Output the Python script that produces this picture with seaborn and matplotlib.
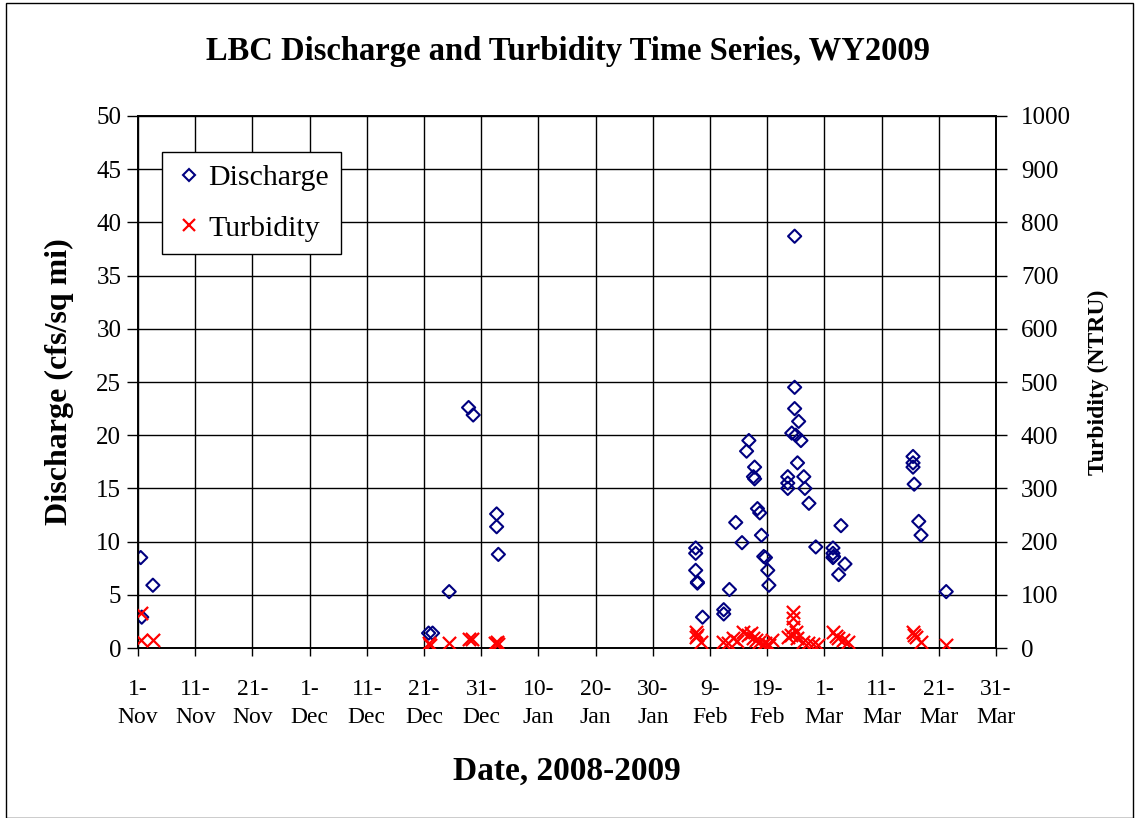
import matplotlib
matplotlib.use("Agg")
import matplotlib.pyplot as plt
from matplotlib.lines import Line2D
from matplotlib.patches import Rectangle
import seaborn as sns
import pandas as pd
import numpy as np

# ---- data (days since 2008-11-01) ----
base_date = "2008-11-01"
discharge_day = [0.47, 0.65, 2.6, 50.8, 51.5, 54.4, 57.8, 58.6, 62.7, 62.7, 63.0,
                 97.5, 97.5, 97.5, 97.8, 97.8, 98.7, 102.4, 102.4, 103.4, 104.5,
                 105.6, 106.4, 106.8, 107.6, 107.8, 107.8, 108.3, 108.7, 109.0,
                 109.4, 109.7, 110.1, 110.3, 113.6, 113.6, 113.6, 114.3, 114.8,
                 114.8, 114.8, 115.0, 115.3, 115.5, 115.9, 116.4, 116.6, 117.3,
                 118.5, 121.5, 121.5, 121.6, 121.5, 122.5, 122.9, 123.6, 135.5,
                 135.5, 135.5, 135.7, 136.5, 136.9, 141.3]
discharge_cfs = [8.5, 2.9, 5.9, 1.4, 1.4, 5.3, 22.6, 21.9, 12.6, 11.4, 8.8,
                 9.4, 8.9, 7.3, 6.2, 6.1, 2.9, 3.6, 3.2, 5.5, 11.8,
                 9.9, 18.5, 19.5, 16.1, 17.0, 15.9, 13.1, 12.7, 10.6,
                 8.6, 8.5, 7.3, 5.9, 16.1, 15.5, 15.0, 20.2, 38.7,
                 24.5, 22.5, 20.0, 17.4, 21.3, 19.5, 16.1, 15.0, 13.6,
                 9.5, 9.4, 8.9, 8.6, 8.5, 6.9, 11.5, 7.9, 18.0,
                 17.4, 17.0, 15.4, 11.9, 10.6, 5.3]
turbidity_day = [0.5, 0.5, 2.6, 50.8, 51.1, 54.4, 57.8, 58.4, 62.5, 62.7, 62.9,
                 97.5, 97.5, 97.8, 98.4, 102.2, 103.1, 104.0, 104.8, 105.7, 106.6,
                 107.1, 107.5, 108.0, 108.5, 109.2, 109.7, 110.4, 110.8, 113.6,
                 114.1, 114.6, 114.6, 114.6, 115.0, 115.3, 116.2, 117.1, 118.0,
                 118.9, 121.5, 122.0, 122.3, 123.2, 124.1, 135.5, 135.7, 136.0,
                 136.9, 141.3]
turbidity_ntru = [66, 15, 15, 9, 6, 9, 17, 17, 9, 12, 7,
                  30, 21, 25, 11, 11, 9, 19, 13, 30, 24,
                  28, 19, 15, 11, 8, 9, 6, 15, 21,
                  25, 68, 56, 40, 30, 19, 11, 9, 7,
                  6, 30, 22, 19, 15, 11, 30, 25, 21,
                  11, 6]
tick_dates = ["2008-11-01", "2008-11-11", "2008-11-21", "2008-12-01", "2008-12-11",
              "2008-12-21", "2008-12-31", "2009-01-10", "2009-01-20", "2009-01-30",
              "2009-02-09", "2009-02-19", "2009-03-01", "2009-03-11", "2009-03-21",
              "2009-03-31"]

t0 = pd.Timestamp(base_date)
dis = pd.DataFrame({"date": t0 + pd.to_timedelta(discharge_day, unit="D"),
                    "q": discharge_cfs})
tur = pd.DataFrame({"date": t0 + pd.to_timedelta(turbidity_day, unit="D"),
                    "ntu": turbidity_ntru})

sns.set_theme(style="white")
plt.rcParams["font.family"] = ["Liberation Serif", "DejaVu Serif"]
for k in ("text.color", "axes.labelcolor", "xtick.color", "ytick.color"):
    plt.rcParams[k] = "black"

fig = plt.figure(figsize=(11.35, 8.18), dpi=100)
ax = fig.add_axes([0.1216, 0.2078, 0.8775 - 0.1216, 0.8582 - 0.2078])
ax2 = ax.twinx()
ax2.set_zorder(ax.get_zorder() + 1)
ax2.patch.set_visible(False)

sns.scatterplot(data=dis, x="date", y="q", ax=ax, marker="D", s=45,
                facecolors="none", edgecolor="#000080", linewidth=1.5, zorder=3)
sns.scatterplot(data=tur, x="date", y="ntu", ax=ax2, marker="x", s=90,
                color="#ff0000", linewidth=1.6, zorder=3)

ax.set_xlim(pd.Timestamp("2008-11-01"), pd.Timestamp("2009-03-31"))
ax.set_ylim(0, 50)
ax2.set_ylim(0, 1000)
ax.set_yticks(np.arange(0, 51, 5))
ax2.set_yticks(np.arange(0, 1001, 100))
ticks = pd.to_datetime(tick_dates)
ax.set_xticks(ticks)
ax.set_xticklabels([f"{d.day}-\n{d.strftime('%b')}" for d in ticks], fontsize=17,
                   linespacing=1.45)
ax.tick_params(axis="y", labelsize=18, direction="out", length=8, width=1, left=True, pad=4)
ax2.tick_params(axis="y", labelsize=18, direction="out", length=8, width=1, right=True, pad=10)
ax.tick_params(axis="x", direction="out", length=6, width=1, bottom=True, pad=16)

ax.grid(True, color="black", linewidth=1.0)
ax.set_axisbelow(True)
for a in (ax, ax2):
    for sp in a.spines.values():
        sp.set_color("black")
        sp.set_linewidth(1.2)

ax.set_xlabel("Date, 2008-2009", fontsize=24, fontweight="bold", labelpad=20)
ax.set_ylabel("Discharge (cfs/sq mi)", fontsize=23, fontweight="bold", labelpad=16)
ax2.set_ylabel("Turbidity (NTRU)", fontsize=17, fontweight="bold", labelpad=12)
fig.text(0.5, 0.937, "LBC Discharge and Turbidity Time Series, WY2009",
         ha="center", va="center", fontsize=23.5, fontweight="bold")

handles = [Line2D([], [], marker="D", linestyle="none", markerfacecolor="none",
                  markeredgecolor="#000080", markeredgewidth=1.5, markersize=6),
           Line2D([], [], marker="x", linestyle="none", color="#ff0000",
                  markeredgewidth=1.6, markersize=9)]
leg = ax2.legend(handles, ["Discharge", "Turbidity"], loc="upper left",
                 bbox_to_anchor=(0.028, 0.932), borderaxespad=0, fontsize=21.5,
                 frameon=True, fancybox=False, framealpha=1, edgecolor="black",
                 handletextpad=0.15, borderpad=0.4, labelspacing=0.8,
                 handlelength=1.0)
leg.get_frame().set_linewidth(1.0)

fig.patches.append(Rectangle((0.005, 0.0), 0.993, 0.996, transform=fig.transFigure,
                             fill=False, edgecolor="black", linewidth=1.0))

fig.savefig("out.png", dpi=100)
